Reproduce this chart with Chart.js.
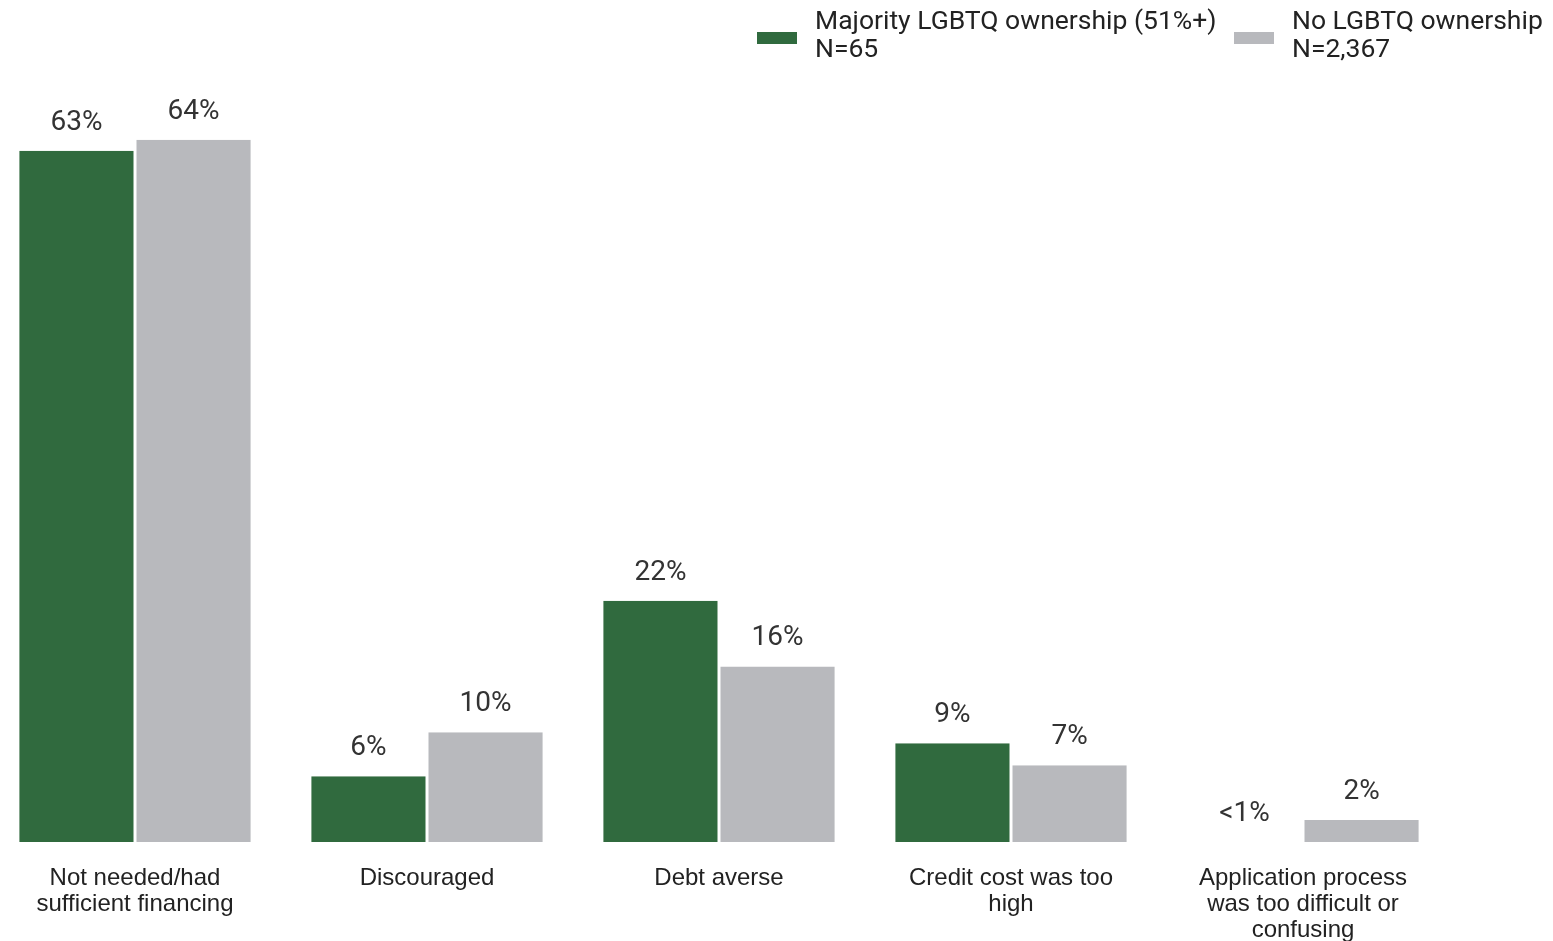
<!DOCTYPE html>
<html lang="en">
<head>
  <meta charset="UTF-8">
  <title>Reasons for not applying for financing</title>
  <script src="https://cdn.jsdelivr.net/npm/chart.js"></script>
  <style>
    body {
      margin: 0;
      padding: 0;
      background: #fff;
      overflow: hidden;
    }
    #wrap {
      position: relative;
      width: 1553px;
      height: 941px;
    }
    #chart-box {
      position: absolute;
      left: -11px;
      top: 0;
      width: 1564px;
      height: 941px;
    }
    .legend-item {
      position: absolute;
      top: 6px;
      font-family: Roboto, sans-serif;
      font-size: 26.5px;
      line-height: 28px;
      color: #222;
      white-space: nowrap;
    }
    .swatch {
      position: absolute;
      top: 32px;
      width: 40px;
      height: 12px;
    }
  </style>
</head>
<body>
  <div id="wrap">
    <div id="chart-box"><canvas id="barChart"></canvas></div>
    <div class="swatch" style="left:757px; background:#306a3e;"></div>
    <div class="legend-item" style="left:815px;">Majority LGBTQ ownership (51%+)<br>N=65</div>
    <div class="swatch" style="left:1234px; background:#b8b9bd;"></div>
    <div class="legend-item" style="left:1292px;">No LGBTQ ownership<br>N=2,367</div>
  </div>

  <script>
    const categories = [
      ['Not needed/had', 'sufficient financing'],
      ['Discouraged'],
      ['Debt averse'],
      ['Credit cost was too', 'high'],
      ['Application process', 'was too difficult or', 'confusing']
    ];
    const majorityValues = [63, 6, 22, 9, 0];
    const noneValues = [64, 10, 16, 7, 2];
    const majorityLabels = ['63%', '6%', '22%', '9%', '<1%'];
    const noneLabels = ['64%', '10%', '16%', '7%', '2%'];

    // value labels above each bar
    const barLabels = {
      id: 'barLabels',
      afterDatasetsDraw(chart) {
        const ctx = chart.ctx;
        ctx.save();
        ctx.font = '28px Roboto, sans-serif';
        ctx.fillStyle = '#333';
        ctx.textAlign = 'center';
        ctx.textBaseline = 'middle';
        chart.data.datasets.forEach((ds, i) => {
          chart.getDatasetMeta(i).data.forEach((bar, j) => {
            ctx.fillText(ds.valueLabels[j], bar.x, bar.y - 28);
          });
        });
        ctx.restore();
      }
    };

    const ctx = document.getElementById('barChart').getContext('2d');
    const barChart = new Chart(ctx, {
      type: 'bar',
      data: {
        labels: categories,
        datasets: [{
          label: 'Majority LGBTQ ownership (51%+)',
          data: majorityValues,
          valueLabels: majorityLabels,
          backgroundColor: '#306a3e',
          borderColor: '#fff',
          borderWidth: { left: 1.5, right: 1.5, top: 0, bottom: 0 },
          borderSkipped: false
        }, {
          label: 'No LGBTQ ownership',
          data: noneValues,
          valueLabels: noneLabels,
          backgroundColor: '#b8b9bd',
          borderColor: '#fff',
          borderWidth: { left: 1.5, right: 1.5, top: 0, bottom: 0 },
          borderSkipped: false
        }]
      },
      options: {
        responsive: true,
        maintainAspectRatio: false,
        animation: false,
        layout: {
          padding: { top: 74, right: 104, left: 0, bottom: -25 }
        },
        datasets: {
          bar: { categoryPercentage: 0.802, barPercentage: 1 }
        },
        plugins: {
          legend: { display: false },
          tooltip: { enabled: false }
        },
        scales: {
          x: {
            grid: { display: false, drawTicks: false },
            border: { display: false },
            ticks: {
              padding: 23,
              color: '#222',
              maxRotation: 0,
              autoSkip: false,
              font: { family: '"Liberation Sans", Arial, sans-serif', size: 24, lineHeight: 1.083 }
            }
          },
          y: {
            display: false,
            min: 0,
            max: 70
          }
        }
      },
      plugins: [barLabels]
    });
  </script>
</body>
</html>
